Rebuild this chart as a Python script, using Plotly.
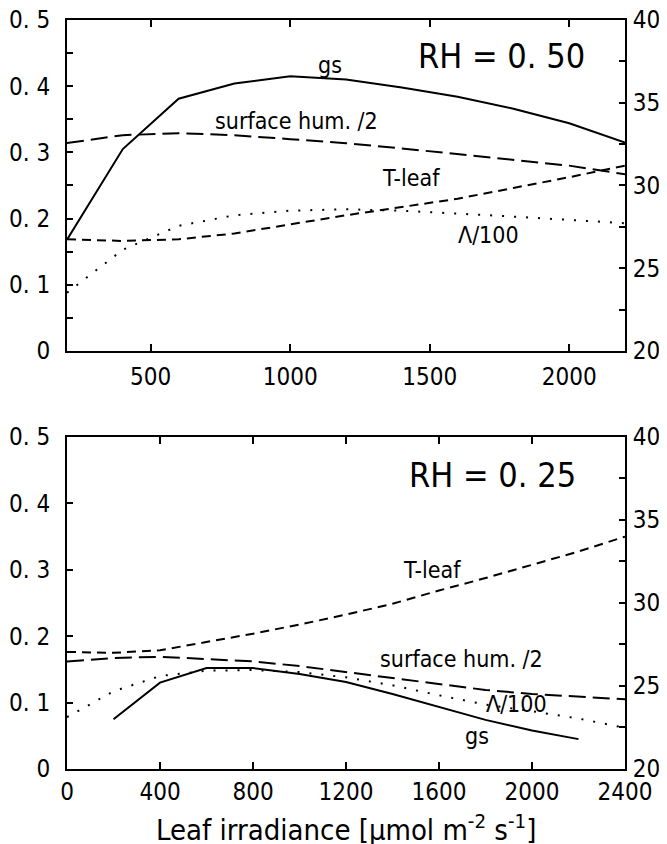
import plotly.graph_objects as go

# ---------------- data ----------------
# Top panel (RH = 0.50)
x_top = [200, 400, 600, 800, 1000, 1200, 1400, 1600, 1800, 2000, 2200]
gs_top = [0.168, 0.305, 0.381, 0.404, 0.415, 0.410, 0.398, 0.384, 0.366, 0.344, 0.315]
hum_top = [0.314, 0.326, 0.329, 0.326, 0.320, 0.314, 0.306, 0.297, 0.289, 0.280, 0.267]
tleaf_top = [26.75, 26.65, 26.75, 27.1, 27.65, 28.2, 28.7, 29.2, 29.85, 30.5, 31.2]
lam_top = [0.088, 0.153, 0.189, 0.205, 0.212, 0.214, 0.212, 0.208, 0.203, 0.198, 0.193]

# Bottom panel (RH = 0.25)
x_bot = [0, 200, 400, 600, 800, 1000, 1200, 1400, 1600, 1800, 2000, 2200, 2400]
x_gs_bot = [200, 400, 600, 800, 1000, 1200, 1400, 1600, 1800, 2000, 2200]
gs_bot = [0.075, 0.130, 0.152, 0.152, 0.143, 0.131, 0.113, 0.093, 0.074, 0.058, 0.045]
hum_bot = [0.162, 0.167, 0.169, 0.166, 0.162, 0.155, 0.146, 0.137, 0.128, 0.119, 0.113, 0.109, 0.105]
tleaf_bot = [27.05, 27.0, 27.15, 27.65, 28.15, 28.7, 29.3, 29.95, 30.75, 31.5, 32.3, 33.1, 34.0]
lam_bot = [0.078, 0.117, 0.140, 0.148, 0.149, 0.146, 0.138, 0.126, 0.111, 0.097, 0.087, 0.076, 0.062]

# tick labels
left_vals = [0, 0.1, 0.2, 0.3, 0.4, 0.5]
left_text = ["0", "0. 1", "0. 2", "0. 3", "0. 4", "0. 5"]
right_vals = [20, 25, 30, 35, 40]
right_text = ["20", "25", "30", "35", "40"]
xtop_vals = [500, 1000, 1500, 2000]
xtop_text = ["500", "1000", "1500", "2000"]
xbot_vals = [0, 400, 800, 1200, 1600, 2000, 2400]
xbot_text = ["0", "400", "800", "1200", "1600", "2000", "2400"]

FONT = "DejaVu Sans Condensed, Liberation Sans Narrow, DejaVu Sans, sans-serif"
BLACK = "black"

fig = go.Figure()

def add(x, y, xa, ya, dash, width=2):
    fig.add_trace(go.Scatter(x=x, y=y, xaxis=xa, yaxis=ya, mode="lines",
                             line=dict(color=BLACK, width=width, dash=dash),
                             showlegend=False, hoverinfo="skip"))

# top
add(x_top, gs_top, "x", "y", "solid")
add(x_top, hum_top, "x", "y", "17px,7px")
add(x_top, lam_top, "x", "y", "2px,10px")
add(x_top, tleaf_top, "x", "y3", "9px,6px")
# bottom
add(x_gs_bot, gs_bot, "x2", "y2", "solid")
add(x_bot, hum_bot, "x2", "y2", "17px,7px")
add(x_bot, lam_bot, "x2", "y2", "2px,10px")
add(x_bot, tleaf_bot, "x2", "y4", "9px,6px")

tickfont = dict(family=FONT, size=24, color=BLACK)
common_axis = dict(showline=True, linecolor=BLACK, linewidth=2, showgrid=False,
                   zeroline=False, ticks="inside", tickcolor=BLACK, tickwidth=2,
                   tickfont=tickfont, fixedrange=True, automargin=False,
                   ticklabeloverflow="allow")

TOP_DOM = [0.5581, 1.0]
BOT_DOM = [0.0, 0.4433]

fig.update_layout(
    width=659, height=836,
    margin=dict(l=59, r=42, t=12, b=75),
    paper_bgcolor="white", plot_bgcolor="white",
    font=dict(family=FONT, color=BLACK),
    xaxis=dict(common_axis, domain=[0, 1], anchor="y", range=[200, 2200],
               tickmode="array", tickvals=xtop_vals, ticktext=xtop_text,
               ticklen=7, mirror="ticks", ticklabelstandoff=3),
    yaxis=dict(common_axis, domain=TOP_DOM, anchor="x", range=[0, 0.5],
               tickmode="array", tickvals=left_vals, ticktext=left_text,
               ticklen=6, ticklabelstandoff=10,
               minor=dict(tickmode="linear", tick0=0, dtick=0.05, ticks="inside",
                          ticklen=6, tickwidth=2, tickcolor=BLACK)),
    yaxis3=dict(common_axis, overlaying="y", side="right", anchor="x", range=[20, 40],
                tickmode="array", tickvals=right_vals, ticktext=right_text,
                ticklen=6, ticklabelstandoff=1,
                minor=dict(tickmode="linear", tick0=20, dtick=2.5, ticks="inside",
                           ticklen=6, tickwidth=2, tickcolor=BLACK)),
    xaxis2=dict(common_axis, domain=[0, 1], anchor="y2", range=[0, 2400],
                tickmode="array", tickvals=xbot_vals, ticktext=xbot_text,
                ticklen=7, mirror="ticks", ticklabelstandoff=0),
    yaxis2=dict(common_axis, domain=BOT_DOM, anchor="x2", range=[0, 0.5],
                tickmode="array", tickvals=left_vals, ticktext=left_text,
                ticklen=6, ticklabelstandoff=10),
    yaxis4=dict(common_axis, overlaying="y2", side="right", anchor="x2", range=[20, 40],
                tickmode="array", tickvals=right_vals, ticktext=right_text,
                ticklen=6, ticklabelstandoff=1,
                minor=dict(tickmode="linear", tick0=20, dtick=2.5, ticks="inside",
                           ticklen=6, tickwidth=2, tickcolor=BLACK)),
)

def ann(text, x, y, xref, yref, size):
    fig.add_annotation(text=text, x=x, y=y, xref=xref, yref=yref, showarrow=False,
                       font=dict(family=FONT, size=size, color=BLACK),
                       xanchor="center", yanchor="middle")

# top panel labels
ann("RH = 0. 50", 1756, 0.446, "x", "y", 34)
ann("gs", 1143, 0.432, "x", "y", 23)
ann("surface hum. /2", 1021, 0.347, "x", "y", 23)
ann("T-leaf", 1433, 0.261, "x", "y", 23)
ann("Λ/100", 1709, 0.175, "x", "y", 23)
# bottom panel labels
ann("RH = 0. 25", 1832, 0.443, "x2", "y2", 34)
ann("T-leaf", 1570, 0.300, "x2", "y2", 23)
ann("surface hum. /2", 1695, 0.166, "x2", "y2", 23)
ann("Λ/100", 1935, 0.098, "x2", "y2", 23)
ann("gs", 1763, 0.050, "x2", "y2", 23)

# x-axis title
fig.add_annotation(text="Leaf irradiance [μmol m<sup>-2</sup> s<sup>-1</sup>]",
                   x=0.5, y=-0.0788, xref="paper", yref="paper", showarrow=False,
                   xanchor="center", yanchor="middle",
                   font=dict(family=FONT, size=29, color=BLACK))

fig.write_html("out.html")
